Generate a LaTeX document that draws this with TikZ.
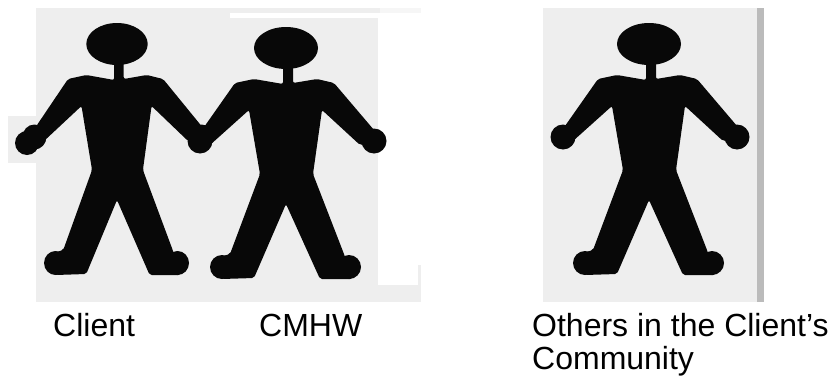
\documentclass[tikz,border=0pt]{standalone}
\usepackage{fontspec}
\setmainfont{Liberation Sans}
\definecolor{PanelGrey}{RGB}{238,238,238}
\definecolor{PaleGrey}{RGB}{246,246,246}
\definecolor{EdgeGrey}{RGB}{187,187,187}
\definecolor{FigureBlack}{RGB}{8,8,8}
\usetikzlibrary{positioning}
\tikzset{
  panel/.style={fill=PanelGrey, draw=none},
  figure/.style={fill=FigureBlack, draw=none},
  caption/.style={inner sep=0pt, anchor=base west, font=\fontsize{32}{33}\selectfont},
  person/.pic={
    \fill[figure] (0,0) ellipse [x radius=32, y radius=21];
    \fill[figure] (-64,219) circle [radius=12];
    \fill[figure] (63,219) circle [radius=12];
    \fill[figure] (-86,93) circle [radius=12.5];
    \fill[figure] (88,93) circle [radius=12.5];
    \fill[figure, rounded corners=2pt]
      (-3,15) -- (7,15) -- (7,35) -- (31,31) -- (48,35) -- (88,82) -- (90,95)
      -- (74,97) -- (36,62) -- (27,126) -- (58,206) -- (66,231) -- (34,231)
      -- (0,156) -- (-32,230) -- (-64,231) -- (-70,210) -- (-56,206) -- (-26,126)
      -- (-37,62) -- (-76,97) -- (-90,95) -- (-84,82) -- (-51,35) -- (-32,31)
      -- (-3,36) -- cycle;
  }
}
\begin{document}
\begin{tikzpicture}[x=1pt, y=-1pt]
    \useasboundingbox (0,0) rectangle (830,375);
    % grey panels
    \fill[panel] (36,8) rectangle (421,302);
    \fill[panel] (8,116) rectangle (36,163);
    \fill[white] (230,13) rectangle (421,18);
    \fill[white] (378,18) rectangle (421,265);
    \fill[white] (378,265) rectangle (418,285);
    \fill[PaleGrey] (380,8) rectangle (421,13);
    \fill[panel] (543,8) rectangle (757,302);
    \fill[EdgeGrey] (757,8) rectangle (764,302);
    % people
    \pic[xscale=0.96] at (117,44) {person};
    \fill[figure] (27,143) circle [radius=12];
    \pic at (286,48) {person};
    \pic at (649,44) {person};
    % labels
    \node[caption] (client) at (53,336) {Client};
    \node[caption] (cmhw) at (259,336) {CMHW};
    \node[caption] (others) at (532,336) {Others in the Client’s};
    \node[caption] (community) at (532,369) {Community};
\end{tikzpicture}
\end{document}
